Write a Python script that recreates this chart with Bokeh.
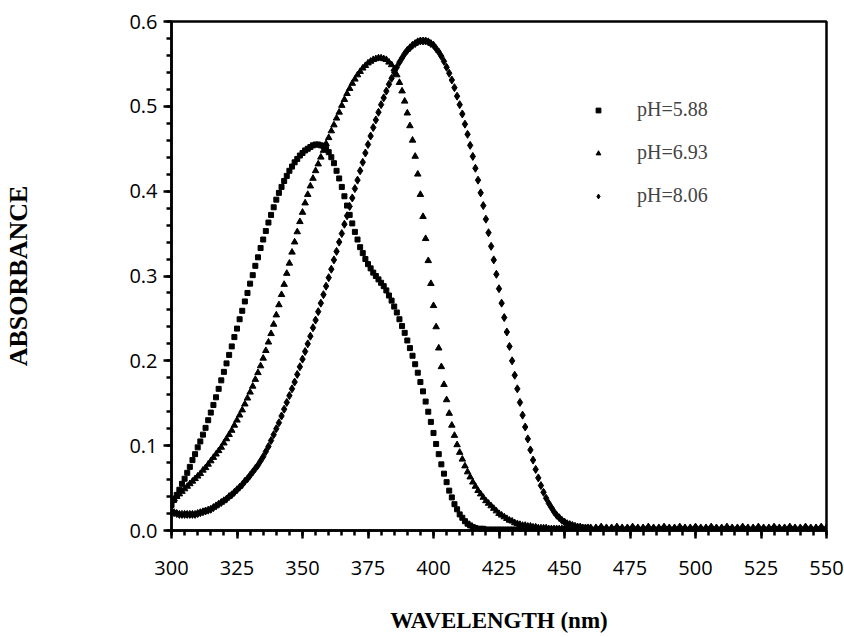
from bokeh.plotting import figure
from bokeh.models import (SingleIntervalTicker, NumeralTickFormatter, Legend, LegendItem,
                          ColumnDataSource, Range1d)
from bokeh.embed import file_html
from bokeh.resources import INLINE

# wavelength (nm): every 1 nm from 300 to 460, then every 2 nm to 550
wavelength = list(range(300, 461)) + list(range(462, 552, 2))

# pH = 5.88 (squares)
abs_ph588 = [
    .030, .036, .042, .048, .055, .061, .068, .075, .083, .090,
    .098, .105, .113, .121, .130, .139, .148, .157, .167, .177,
    .187, .197, .207, .217, .228, .238, .249, .259, .270, .280,
    .291, .301, .312, .322, .333, .343, .353, .363, .372, .381,
    .390, .398, .405, .412, .418, .424, .429, .434, .438, .442,
    .445, .448, .450, .452, .454, .455, .455, .454, .453, .450,
    .446, .440, .433, .424, .415, .405, .394, .383, .372, .362,
    .352, .343, .334, .327, .320, .314, .309, .304, .300, .296,
    .292, .288, .283, .277, .271, .264, .257, .249, .241, .233,
    .224, .215, .206, .196, .186, .175, .164, .152, .140, .128,
    .115, .102, .090, .078, .067, .057, .047, .039, .031, .025,
    .019, .015, .011, .008, .006, .004, .003, .002, .002, .002,
    .001, .001, .001, .001, .001, .001, .001, .001, .001, .001,
    .001, .001, .001, .001, .001, .001, .001, .001, .001, .001,
    .001, .001, .001, .001, .001, .001, .001, .001, .001, .001,
    .001, .001, .001, .001, .001, .001, .001, .001, .001, .001,
    .001,
    .001, .002, .001, .001, .002, .001, .001, .002, .001, .001,
    .002, .001, .001, .002, .001, .001, .002, .001, .001, .002,
    .001, .001, .002, .001, .001, .002, .001, .001, .002, .001,
    .001, .002, .001, .001, .002, .001, .001, .002, .001, .001,
    .002, .001, .001, .002, .001,
]

# pH = 6.93 (triangles)
abs_ph693 = [
    .035, .037, .040, .043, .046, .049, .052, .055, .058, .061,
    .064, .067, .071, .074, .078, .082, .086, .090, .094, .098,
    .103, .108, .113, .118, .124, .130, .136, .142, .149, .156,
    .163, .170, .178, .186, .194, .203, .212, .222, .232, .243,
    .254, .266, .278, .290, .303, .315, .328, .340, .352, .364,
    .375, .386, .396, .406, .415, .424, .432, .440, .448, .456,
    .463, .471, .478, .486, .493, .501, .508, .515, .521, .527,
    .532, .537, .541, .545, .548, .551, .553, .555, .556, .557,
    .557, .556, .555, .552, .549, .544, .537, .528, .518, .506,
    .492, .477, .460, .441, .420, .396, .370, .344, .318, .291,
    .265, .240, .215, .193, .172, .154, .138, .124, .112, .101,
    .092, .084, .076, .069, .063, .057, .052, .047, .043, .039,
    .035, .032, .029, .026, .023, .020, .018, .016, .014, .012,
    .011, .009, .008, .007, .006, .006, .005, .005, .004, .004,
    .003, .003, .003, .003, .002, .002, .002, .002, .002, .002,
    .002, .002, .002, .002, .002, .002, .002, .002, .002, .002,
    .002,
    .002, .001, .002, .002, .001, .002, .002, .001, .002, .002,
    .001, .002, .002, .001, .002, .002, .001, .002, .002, .001,
    .002, .002, .001, .002, .002, .001, .002, .002, .001, .002,
    .002, .001, .002, .002, .001, .002, .002, .001, .002, .002,
    .001, .002, .002, .001, .002,
]

# pH = 8.06 (diamonds)
abs_ph806 = [
    .022, .021, .020, .019, .019, .019, .019, .019, .019, .019,
    .020, .021, .022, .023, .024, .025, .027, .029, .031, .033,
    .035, .037, .040, .042, .045, .048, .051, .054, .058, .061,
    .065, .069, .073, .077, .082, .087, .093, .099, .106, .113,
    .120, .127, .135, .143, .151, .159, .167, .175, .184, .193,
    .202, .211, .220, .229, .239, .248, .258, .268, .278, .288,
    .298, .308, .319, .329, .340, .350, .361, .371, .382, .392,
    .403, .413, .424, .434, .445, .455, .465, .475, .484, .493,
    .502, .510, .518, .526, .533, .540, .546, .552, .557, .562,
    .566, .569, .572, .574, .576, .577, .577, .577, .576, .574,
    .572, .568, .564, .559, .553, .546, .539, .531, .522, .512,
    .502, .491, .479, .467, .454, .441, .427, .413, .398, .383,
    .367, .351, .335, .319, .302, .285, .268, .251, .234, .217,
    .200, .183, .167, .151, .136, .122, .108, .095, .083, .072,
    .062, .053, .045, .038, .032, .027, .022, .018, .015, .012,
    .010, .008, .007, .006, .005, .004, .004, .003, .003, .003,
    .003,
    .003, .004, .003, .003, .004, .003, .003, .004, .003, .003,
    .004, .003, .003, .004, .003, .003, .004, .003, .003, .004,
    .003, .003, .004, .003, .003, .004, .003, .003, .004, .003,
    .003, .004, .003, .003, .004, .003, .003, .004, .003, .003,
    .004, .003, .003, .004, .003,
]

series_labels = ["pH=5.88", "pH=6.93", "pH=8.06"]
x_label = "WAVELENGTH (nm)"
y_label = "ABSORBANCE"

TICK_FONT = "Open Sans"
SERIF = "Liberation Serif"

p = figure(width=844, height=637, output_backend="svg", toolbar_location=None,
           x_range=Range1d(300, 550), y_range=Range1d(0, 0.6000001),
           min_border_left=171, min_border_right=18, min_border_top=21, min_border_bottom=107)
p.grid.visible = False
p.outline_line_color = "black"
p.outline_line_width = 2.5
p.background_fill_color = "white"
p.border_fill_color = "white"

src = ColumnDataSource(dict(x=wavelength, a=abs_ph588, b=abs_ph693, c=abs_ph806))
r1 = p.scatter("x", "a", source=src, marker="square", size=5, color="black")
r2 = p.scatter("x", "b", source=src, marker="triangle", size=6.5, color="black")
r3 = p.scatter("x", "c", source=src, marker="diamond", size=8, color="black")

xa = p.xaxis[0]
xa.ticker = SingleIntervalTicker(interval=25, num_minor_ticks=5)
ya = p.yaxis[0]
ya.ticker = SingleIntervalTicker(interval=0.1, num_minor_ticks=5)
ya.formatter = NumeralTickFormatter(format="0.0")

for ax in (xa, ya):
    ax.axis_line_width = 2.5
    ax.axis_line_color = "black"
    ax.major_tick_in = 0
    ax.major_tick_out = 8
    ax.minor_tick_in = 0
    ax.minor_tick_out = 5
    ax.major_tick_line_width = 2.5
    ax.minor_tick_line_width = 2.5
    ax.major_label_text_font = TICK_FONT
    ax.major_label_text_font_size = "20px"
    ax.major_label_text_color = "black"
    ax.axis_label_text_font = SERIF
    ax.axis_label_text_font_style = "bold"
    ax.axis_label_text_color = "black"

xa.axis_label = x_label
xa.axis_label_text_font_size = "23px"
xa.major_label_standoff = 22
xa.axis_label_standoff = 30
ya.axis_label = y_label
ya.axis_label_text_font_size = "26px"
ya.major_label_standoff = 6
ya.axis_label_standoff = 93

legend = Legend(items=[LegendItem(label=series_labels[0], renderers=[r1]),
                       LegendItem(label=series_labels[1], renderers=[r2]),
                       LegendItem(label=series_labels[2], renderers=[r3])],
                location=(421, 323), padding=0, margin=0, spacing=20,
                glyph_width=12, glyph_height=20, label_height=20, label_standoff=33,
                border_line_color=None, background_fill_alpha=0,
                label_text_font=SERIF, label_text_font_size="20px")
p.add_layout(legend)

open("out.html", "w").write(file_html(p, INLINE))
